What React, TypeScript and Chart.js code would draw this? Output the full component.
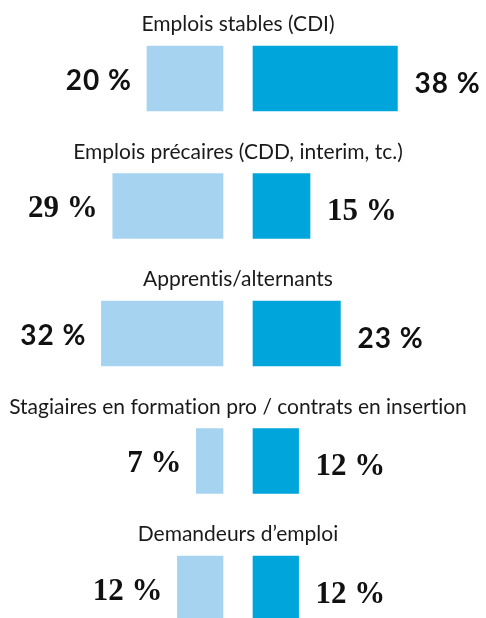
import React, { useEffect, useRef } from "react";
import { Chart, registerables } from "chart.js";

Chart.register(...registerables);

const categories = [
  "Emplois stables (CDI)",
  "Emplois précaires (CDD, interim, tc.)",
  "Apprentis/alternants",
  "Stagiaires en formation pro / contrats en insertion",
  "Demandeurs d\u2019emploi",
];
const leftValues = [20, 29, 32, 7, 12];
const rightValues = [38, 15, 23, 12, 12];
const labelFonts = [
  "bold 28px Lato",
  "bold 31px 'Liberation Serif'",
  "bold 28px Lato",
  "bold 31px 'Liberation Serif'",
  "bold 31px 'Liberation Serif'",
];
const labelSpacing = ["1px", "0px", "1px", "0px", "0px"];

const LIGHT = "#a6d4f0";
const DARK = "#00a6db";

const labelPlugin = {
  id: "groupLabels",
  afterDatasetsDraw(chart: any) {
    const ctx = chart.ctx;
    const left = chart.getDatasetMeta(0).data;
    const right = chart.getDatasetMeta(1).data;
    ctx.save();
    try {
      (ctx as any).textRendering = "optimizeSpeed";
    } catch (e) {}
    categories.forEach((title, i) => {
      const lb = left[i];
      const rb = right[i];
      const top = lb.y - lb.height / 2;
      // title
      (ctx as any).letterSpacing = "0px";
      ctx.font = "21px Lato";
      ctx.textAlign = "center";
      ctx.textBaseline = "alphabetic";
      ctx.fillStyle = "#1a1a1a";
      ctx.fillText(title, (lb.base + rb.base) / 2, top - 15);
      // values
      ctx.fillStyle = "#111";
      ctx.font = labelFonts[i];
      (ctx as any).letterSpacing = labelSpacing[i];
      ctx.textAlign = "right";
      ctx.fillText(leftValues[i] + " %", lb.x - 15, lb.y + 11);
      ctx.textAlign = "left";
      ctx.fillText(rightValues[i] + " %", rb.x + 17, rb.y + 14);
    });
    ctx.restore();
  },
};

export default function App() {
  const ref = useRef<HTMLCanvasElement>(null);
  useEffect(() => {
    document.body.style.margin = "0";
    const chart = new Chart(ref.current!, {
      type: "bar",
      data: {
        labels: categories,
        datasets: [
          {
            data: leftValues,
            xAxisID: "xl",
            backgroundColor: LIGHT,
            grouped: false,
            clip: false as any,
            barThickness: 65,
          },
          {
            data: rightValues,
            xAxisID: "xr",
            backgroundColor: DARK,
            grouped: false,
            clip: false as any,
            barThickness: 65,
          },
        ],
      },
      options: {
        indexAxis: "y",
        animation: false,
        responsive: false,
        maintainAspectRatio: false,
        layout: { padding: { top: 78.5, bottom: 29.5, left: 0, right: 0 } },
        plugins: { legend: { display: false }, tooltip: { enabled: false } },
        scales: {
          y: { type: "category", offset: false, display: false },
          xl: {
            type: "linear",
            reverse: true,
            min: -69.21,
            max: 58.68,
            display: false,
          },
          xr: {
            type: "linear",
            min: -66.58,
            max: 61.32,
            display: false,
          },
        },
      },
      plugins: [labelPlugin],
    });
    return () => chart.destroy();
  }, []);
  return (
    <div style={{ width: 486, height: 618 }}>
      <canvas ref={ref} width={486} height={618} />
    </div>
  );
}
